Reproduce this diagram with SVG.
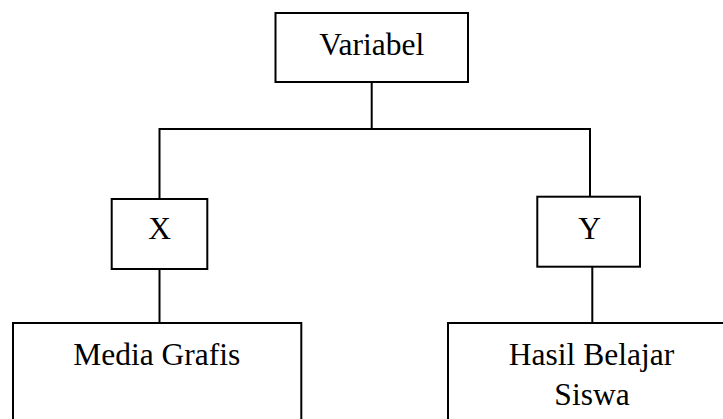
<svg xmlns="http://www.w3.org/2000/svg" width="723" height="419" viewBox="0 0 723 419">
<style>
.box{fill:#fff;stroke:#000;stroke-width:2}
.ln{stroke:#000;stroke-width:2;fill:none}
text{font-family:"Liberation Serif","Times New Roman",serif;font-size:31.5px;fill:#000;text-anchor:middle}
</style>
<rect width="723" height="419" fill="#fff"/>
<g id="connectors">
<line class="ln" x1="371.7" y1="82" x2="371.7" y2="129"/>
<polyline class="ln" points="159.5,199 159.5,129 590,129 590,197"/>
<line class="ln" x1="159.5" y1="269" x2="159.5" y2="323"/>
<line class="ln" x1="592.3" y1="267" x2="592.3" y2="323"/>
</g>
<g id="variabel">
<rect class="box" x="275.5" y="13" width="192.5" height="69"/>
<text x="371.7" y="55">Variabel</text>
</g>
<g id="x">
<rect class="box" x="111.7" y="199" width="95.6" height="70"/>
<text x="159.5" y="239">X</text>
</g>
<g id="y">
<rect class="box" x="537.3" y="196.7" width="102.7" height="70"/>
<text x="589.7" y="238.5">Y</text>
</g>
<g id="media">
<rect class="box" x="13" y="323" width="288.3" height="110"/>
<text x="156.7" y="365">Media Grafis</text>
</g>
<g id="hasil">
<rect class="box" x="448" y="323" width="290" height="110"/>
<text x="591.5" y="364.5">Hasil Belajar</text>
<text x="592" y="405">Siswa</text>
</g>
</svg>
